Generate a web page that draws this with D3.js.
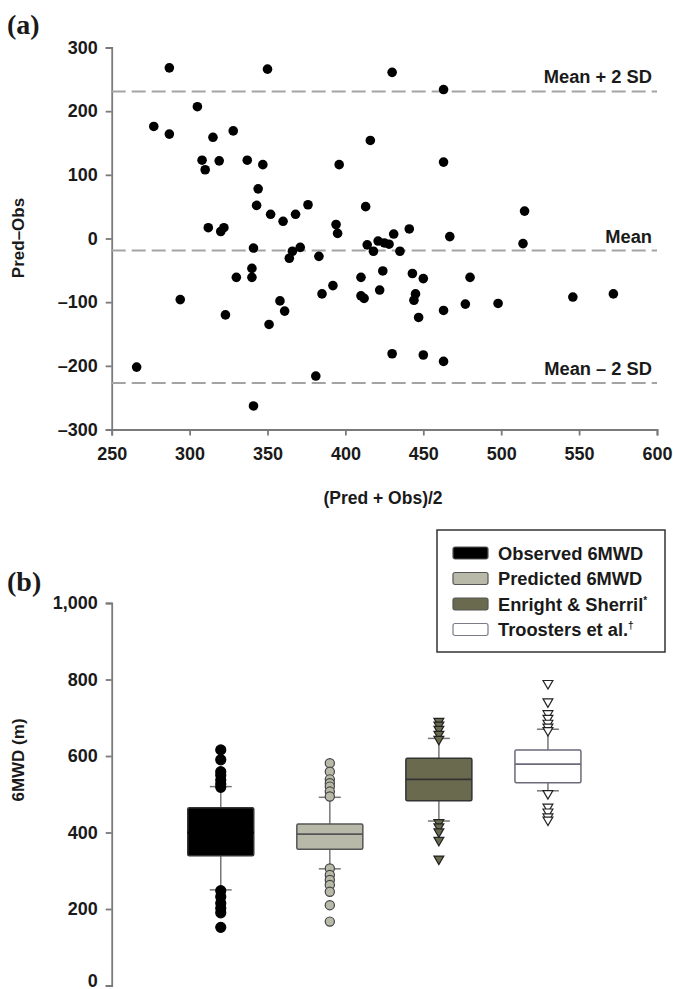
<!DOCTYPE html>
<html lang="en">
<head>
<meta charset="UTF-8">
<title>Bland-Altman and 6MWD box plots</title>
<script src="https://d3js.org/d3.v7.min.js"></script>
<style>
  body { margin: 0; background: #fff; }
  svg text { font-family: "Liberation Sans", Arial, sans-serif; font-weight: bold; fill: #1a1a1a; }
  .axis path, .axis line { stroke: #7a7a7a; stroke-width: 1.8; }
  .axis text { font-size: 18px; }
</style>
</head>
<body>
<svg id="chart" width="673" height="989"></svg>
<script>
// panel (a): Bland-Altman points, x = (Pred + Obs)/2, y = Pred - Obs
const baX = [287, 350, 305, 277, 287, 315, 328, 308, 310, 319, 337, 347, 344, 343, 352, 360, 368, 312, 320, 322,
             341, 366, 364, 371, 340, 340, 330, 294, 358, 361, 323, 351, 266, 341,
             430, 463, 416, 396, 463, 376, 413, 394, 395, 383, 414, 418, 421, 425, 428, 431, 435, 441, 467,
             410, 424, 443, 450, 480, 385, 392, 410, 412, 422, 445, 444, 447, 463, 477, 430, 450, 463, 381,
             515, 514, 498, 546, 572];
const baY = [268, 266, 207, 176, 164, 159, 169, 123, 108, 122, 123, 116, 78, 52, 38, 27, 38, 17, 11, 17,
             -15, -20, -31, -14, -47, -61, -61, -96, -98, -114, -120, -135, -202, -263,
             261, 234, 154, 116, 120, 53, 50, 22, 8, -28, -10, -20, -4, -7, -9, 7, -20, 15, 3,
             -61, -51, -55, -63, -61, -87, -74, -90, -94, -81, -87, -97, -124, -113, -103, -181, -183, -193, -216,
             43, -8, -102, -92, -87];
const refLabels = ["Mean + 2 SD", "Mean", "Mean \u2013 2 SD"];
const refValues = [231, -19, -227];
const xTicksA = [250, 300, 350, 400, 450, 500, 550, 600];
const yTicksA = [-300, -200, -100, 0, 100, 200, 300];

// panel (b): box plots of 6MWD (m)
const groups = ["Observed 6MWD", "Predicted 6MWD", "Enright & Sherril", "Troosters et al."];
const groupMarks = ["", "", "*", "\u2020"];
const q1 = [339, 356, 483, 530];
const med = [400, 396, 539, 579];
const q3 = [465, 422, 594, 616];
const whiskLo = [250, 305, 430, 509];
const whiskHi = [520, 492, 646, 670];
const outliers = [
  [616, 590, 559, 550, 537, 527, 518, 248, 232, 215, 202, 190, 152],
  [581, 559, 539, 529, 520, 507, 494, 306, 289, 276, 263, 245, 210, 167],
  [691, 681, 670, 657, 644, 426, 415, 402, 380, 331],
  [790, 742, 711, 699, 686, 676, 667, 502, 467, 454, 441, 433]
];
const yTicksB = [0, 200, 400, 600, 800, 1000];

const fills = ["#000000", "#b9b9aa", "#6a6a4f", "#ffffff"];
const strokes = ["#333333", "#555555", "#333333", "#6a6a7a"];

const svg = d3.select("#chart");

// ---------- panel (a) ----------
const xA = d3.scaleLinear().domain([250, 600]).range([111.7, 657]);
const yA = d3.scaleLinear().domain([-300, 300]).range([429.5, 47.5]);

svg.append("text").attr("x", 7).attr("y", 34)
  .style("font-family", "'Liberation Serif', 'Times New Roman', serif")
  .style("font-size", "28px").text("(a)");

svg.append("g").attr("class", "axis")
  .attr("transform", "translate(111.7,0)")
  .call(d3.axisLeft(yA).tickValues(yTicksA).tickSizeOuter(0).tickSize(6).tickPadding(8)
    .tickFormat(d => d < 0 ? "\u2013" + Math.abs(d) : d));

svg.append("g").attr("class", "axis")
  .attr("transform", "translate(0,429.5)")
  .call(d3.axisBottom(xA).tickValues(xTicksA).tickSizeOuter(0).tickSize(6).tickPadding(12));

svg.append("text").attr("transform", "translate(24,238) rotate(-90)")
  .attr("text-anchor", "middle").style("font-size", "17px").text("Pred\u2013Obs");
svg.append("text").attr("x", 383).attr("y", 504)
  .attr("text-anchor", "middle").style("font-size", "17.5px").text("(Pred + Obs)/2");

// reference lines
svg.selectAll(".ref").data(refValues).enter().append("line")
  .attr("x1", xA(250)).attr("x2", xA(600))
  .attr("y1", d => yA(d)).attr("y2", d => yA(d))
  .attr("stroke", "#a3a3a3").attr("stroke-width", 2).attr("stroke-dasharray", "14,6");

svg.selectAll(".refLabel").data(refLabels).enter().append("text")
  .attr("x", 652).attr("y", (d, i) => yA(refValues[i]) - 8)
  .attr("text-anchor", "end").style("font-size", "18.3px").text(d => d);

svg.selectAll(".dot").data(baX).enter().append("circle")
  .attr("cx", d => xA(d)).attr("cy", (d, i) => yA(baY[i]))
  .attr("r", 4.8).attr("fill", "#000");

// ---------- panel (b) ----------
const yB = d3.scaleLinear().domain([0, 1000]).range([985.5, 603]);
const xB = d3.scalePoint().domain(groups).range([111.7, 657]).padding(1);
const boxW = 66;

svg.append("text").attr("x", 7).attr("y", 591)
  .style("font-family", "'Liberation Serif', 'Times New Roman', serif")
  .style("font-size", "28px").text("(b)");

const yAxisB = svg.append("g").attr("class", "axis")
  .attr("transform", "translate(111.7,0)")
  .call(d3.axisLeft(yB).tickValues(yTicksB).tickSizeOuter(0).tickSize(6).tickPadding(8)
    .tickFormat(d3.format(",")));
// bottom label sits at the page edge; lift it a little so it stays readable
yAxisB.selectAll(".tick text").filter(d => d === 0).attr("dy", "0.05em");

svg.append("text").attr("transform", "translate(24,760) rotate(-90)")
  .attr("text-anchor", "middle").style("font-size", "17px").text("6MWD (m)");

const box = svg.selectAll(".box").data(groups).enter().append("g");

// whiskers
box.append("line")
  .attr("x1", d => xB(d)).attr("x2", d => xB(d))
  .attr("y1", (d, i) => yB(whiskHi[i])).attr("y2", (d, i) => yB(q3[i]))
  .attr("stroke", "#777").attr("stroke-width", 1.5);
box.append("line")
  .attr("x1", d => xB(d)).attr("x2", d => xB(d))
  .attr("y1", (d, i) => yB(q1[i])).attr("y2", (d, i) => yB(whiskLo[i]))
  .attr("stroke", "#777").attr("stroke-width", 1.5);
[whiskHi, whiskLo].forEach(arr => {
  box.append("line")
    .attr("x1", d => xB(d) - 11).attr("x2", d => xB(d) + 11)
    .attr("y1", (d, i) => yB(arr[i])).attr("y2", (d, i) => yB(arr[i]))
    .attr("stroke", "#777").attr("stroke-width", 1.5);
});

box.append("rect")
  .attr("x", d => xB(d) - boxW / 2).attr("width", boxW)
  .attr("y", (d, i) => yB(q3[i])).attr("height", (d, i) => yB(q1[i]) - yB(q3[i]))
  .attr("rx", 1.5)
  .attr("fill", (d, i) => fills[i]).attr("stroke", (d, i) => strokes[i]).attr("stroke-width", 1.5);

box.append("line")
  .attr("x1", d => xB(d) - boxW / 2).attr("x2", d => xB(d) + boxW / 2)
  .attr("y1", (d, i) => yB(med[i])).attr("y2", (d, i) => yB(med[i]))
  .attr("stroke", (d, i) => i === 0 ? "#000" : strokes[i]).attr("stroke-width", 1.8);

// outliers
const tri = d3.symbol().type(d3.symbolTriangle).size(42);
groups.forEach((g, i) => {
  const sel = svg.selectAll(".out" + i).data(outliers[i]).enter();
  if (i < 2) {
    sel.append("circle")
      .attr("cx", xB(g)).attr("cy", d => yB(d))
      .attr("r", i === 0 ? 5 : 4.6)
      .attr("fill", fills[i]).attr("stroke", i === 0 ? "#000" : "#444").attr("stroke-width", 1.2);
  } else {
    sel.append("path").attr("d", tri)
      .attr("transform", d => "translate(" + xB(g) + "," + yB(d) + ") rotate(180)")
      .attr("fill", fills[i]).attr("stroke", "#222").attr("stroke-width", 1.2);
  }
});

// legend
const leg = svg.append("g").attr("transform", "translate(437,530)");
leg.append("rect").attr("width", 228).attr("height", 122)
  .attr("fill", "#fff").attr("stroke", "#333").attr("stroke-width", 1.5);
const item = leg.selectAll(".item").data(groups).enter().append("g")
  .attr("transform", (d, i) => "translate(16," + (23 + i * 25.5) + ")");
item.append("rect").attr("x", 0).attr("y", -6).attr("width", 35).attr("height", 12).attr("rx", 2)
  .attr("fill", (d, i) => fills[i]).attr("stroke", (d, i) => i === 3 ? "#7a7a88" : "#555").attr("stroke-width", 1.2);
const lt = item.append("text").attr("x", 45).attr("y", 6.5).style("font-size", "18.3px").text(d => d);
lt.append("tspan").attr("dy", -7).style("font-size", "10px").text((d, i) => groupMarks[i]);
</script>
</body>
</html>
